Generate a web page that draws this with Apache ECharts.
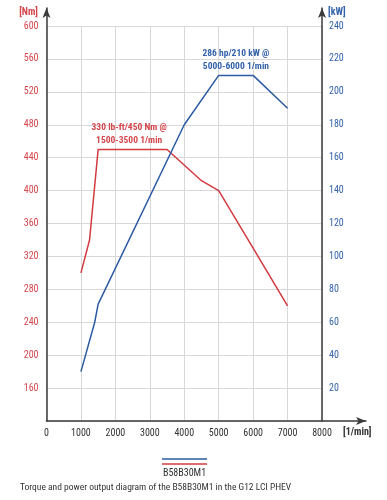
<!DOCTYPE html>
<html>
<head>
<meta charset="utf-8">
<script src="https://cdn.jsdelivr.net/npm/echarts@6/dist/echarts.min.js"></script>
<style>html,body{margin:0;padding:0;background:#fff;}#c{width:387px;height:500px;}</style>
</head>
<body>
<div id="c"></div>
<script>
// Data
const torqueData = [[1000, 300], [1250, 340], [1500, 450], [3500, 450], [4500, 412], [5000, 400], [6000, 330], [7000, 260]];
const powerData = [[1000, 30], [1400, 60], [1500, 71], [4000, 180], [5000, 210], [6000, 210], [7000, 190]];
const torqueNote = ['330 lb-ft/450 Nm @', '1500-3500 1/min'];
const powerNote = ['286 hp/210 kW @', '5000-6000 1/min'];
const torqueNoteAt = [2400, 450];
const powerNoteAt = [5500, 210];
const xRange = [0, 8000, 1000];
const torqueRange = [120, 600, 40];
const powerRange = [0, 240, 20];
const legendName = 'B58B30M1';
const caption = 'Torque and power output diagram of the B58B30M1 in the G12 LCI PHEV';

const RED = '#d23a40', BLUE = '#2d5ba3', RED_T = '#d4474d', BLUE_T = '#3463aa';
const AX = '#3a3a3a', GRID = '#d8d8d8';
const FONT = '"Liberation Sans Narrow", "Roboto Condensed", Roboto, sans-serif';

const chart = echarts.init(document.getElementById('c'), null, {renderer: 'canvas'});
const hiddenAxis = {axisLabel: {show: false}, axisTick: {show: false}, splitLine: {show: false}};
const arrowLine = {show: true, onZero: false, symbol: ['none', 'arrow'], symbolSize: [6, 10], lineStyle: {color: AX, width: 1.5}};

chart.setOption({
  animation: false,
  textStyle: {fontFamily: FONT},
  title: {text: caption, left: 20, top: 483, padding: 0, textStyle: {fontSize: 9.5, fontWeight: 'normal', color: '#333', fontFamily: FONT}},
  grid: [
    {left: 46.5, right: 65, top: 26, bottom: 79},
    {left: 46.5, right: 21, top: 8, bottom: 79},
    {left: 46.5, right: 65, top: 8, bottom: 79}
  ],
  xAxis: [
    {gridIndex: 0, type: 'value', min: xRange[0], max: xRange[1], interval: xRange[2],
      axisLine: {show: false}, axisTick: {show: false},
      axisLabel: {color: '#333', fontSize: 10, margin: 7, fontFamily: FONT, formatter: v => String(v)},
      splitLine: {show: true, lineStyle: {color: GRID, width: 1}}},
    Object.assign({gridIndex: 1, type: 'value', min: 0, max: 1, axisLine: arrowLine}, hiddenAxis),
    {gridIndex: 2, type: 'value', min: 0, max: 1, show: false}
  ],
  yAxis: [
    {gridIndex: 0, type: 'value', position: 'left', min: torqueRange[0], max: torqueRange[1], interval: torqueRange[2],
      axisLine: {show: false}, axisTick: {show: false},
      axisLabel: {color: RED_T, fontSize: 10, margin: 8, fontFamily: FONT, showMinLabel: false},
      splitLine: {show: true, lineStyle: {color: GRID, width: 1}}},
    {gridIndex: 0, type: 'value', position: 'right', min: powerRange[0], max: powerRange[1], interval: powerRange[2],
      axisLine: {show: false}, axisTick: {show: false},
      axisLabel: {color: BLUE_T, fontSize: 10, margin: 7, fontFamily: FONT, showMinLabel: false},
      splitLine: {show: false}},
    Object.assign({gridIndex: 1, type: 'value', position: 'left', min: 0, max: 1, axisLine: arrowLine}, hiddenAxis),
    Object.assign({gridIndex: 2, type: 'value', position: 'right', min: 0, max: 1, axisLine: arrowLine}, hiddenAxis)
  ],
  series: [
    {name: 'Torque', type: 'line', xAxisIndex: 0, yAxisIndex: 0, data: torqueData, showSymbol: false, symbol: 'none',
      lineStyle: {color: RED, width: 1.5}, itemStyle: {color: RED}, z: 3,
      markPoint: {symbol: 'circle', symbolSize: 0, silent: true,
        data: [{coord: torqueNoteAt, value: 0}],
        label: {show: true, position: 'top', distance: 2, formatter: torqueNote.join('\n'),
          color: RED_T, fontSize: 9.5, fontWeight: 'bold', lineHeight: 13, align: 'center', fontFamily: FONT}}},
    {name: 'Power', type: 'line', xAxisIndex: 0, yAxisIndex: 1, data: powerData, showSymbol: false, symbol: 'none',
      lineStyle: {color: BLUE, width: 1.5}, itemStyle: {color: BLUE}, z: 4,
      markPoint: {symbol: 'circle', symbolSize: 0, silent: true,
        data: [{coord: powerNoteAt, value: 0}],
        label: {show: true, position: 'top', distance: 2, formatter: powerNote.join('\n'),
          color: BLUE_T, fontSize: 9.5, fontWeight: 'bold', lineHeight: 13, align: 'center', fontFamily: FONT}}}
  ],
  graphic: [
    {type: 'text', x: 38, y: 7, style: {text: '[Nm]', fill: RED_T, font: 'bold 10px ' + FONT, textAlign: 'right'}},
    {type: 'text', x: 328, y: 7, style: {text: '[kW]', fill: BLUE_T, font: 'bold 10px ' + FONT}},
    {type: 'text', x: 343, y: 427, style: {text: '[1/min]', fill: '#333', font: 'bold 10px ' + FONT}},
    {type: 'line', shape: {x1: 162, y1: 459, x2: 207, y2: 459}, style: {stroke: BLUE, lineWidth: 1.5}},
    {type: 'line', shape: {x1: 162, y1: 464, x2: 207, y2: 464}, style: {stroke: RED, lineWidth: 1.5}},
    {type: 'text', x: 184.5, y: 468, style: {text: legendName, fill: '#333', font: '10px ' + FONT, textAlign: 'center'}}
  ]
});
</script>
</body>
</html>
